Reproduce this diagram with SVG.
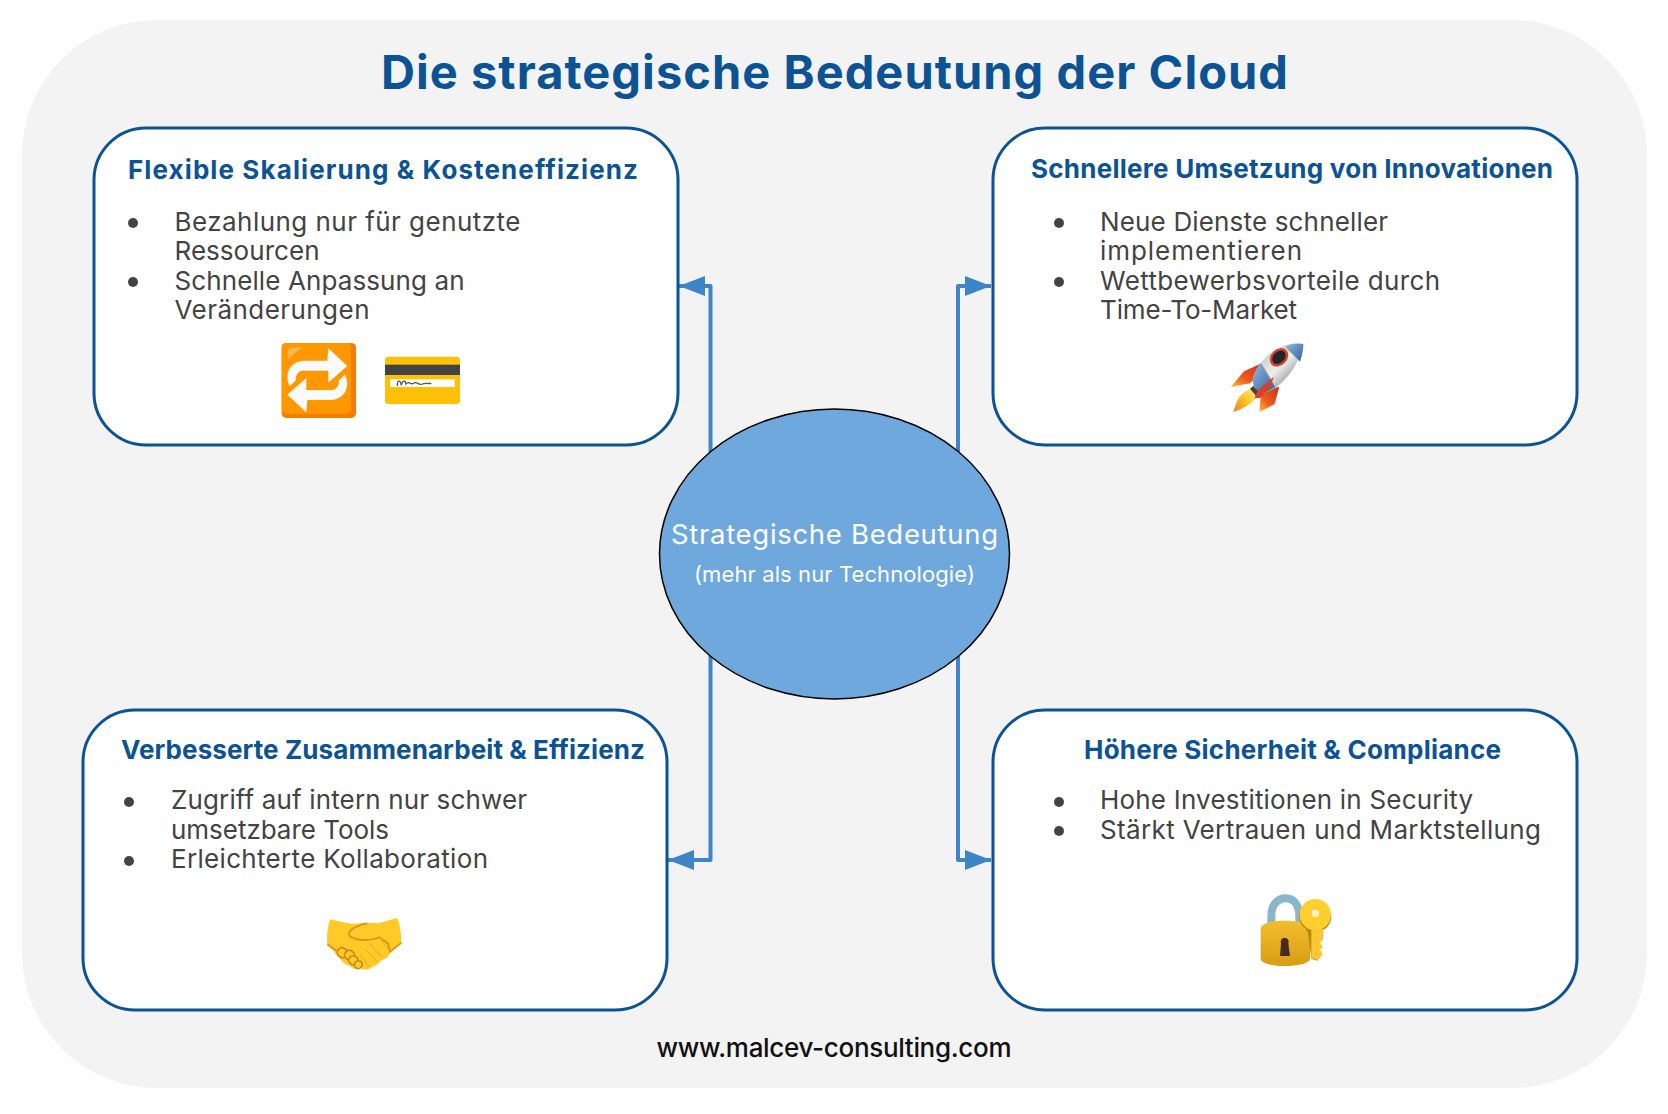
<svg xmlns="http://www.w3.org/2000/svg" width="1668" height="1114" viewBox="0 0 1668 1114">
<style>
text{font-family:"Inter","Open Sans","Liberation Sans",sans-serif}
.box{fill:#fff;stroke:#0b5394;stroke-width:3}
.title{font-size:47px;font-weight:700;fill:#0b5394;text-anchor:start}
.head{font-size:26px;font-weight:700;fill:#0b5394}
.body{font-size:26px;fill:#434343}
.dot{fill:#434343}
.conn{fill:none;stroke:#3d85c6;stroke-width:4;stroke-linejoin:round}
.light{fill:#fff}
</style>
<defs>
<marker id="arrow" markerUnits="userSpaceOnUse" markerWidth="27" markerHeight="22" refX="26" refY="11" orient="auto"><path d="M0,1 L26,11 L0,21 Z" fill="#3d85c6"/></marker>
<linearGradient id="fin" x1="1" y1="0" x2="0" y2="1"><stop offset="0" stop-color="#c8321a"/><stop offset=".6" stop-color="#ef5a1f"/><stop offset="1" stop-color="#ffc02a"/></linearGradient>
<linearGradient id="flame" x1="1" y1="0" x2="0" y2="1"><stop offset="0" stop-color="#fff2a0"/><stop offset=".55" stop-color="#ffc21f"/><stop offset="1" stop-color="#ef7a1a"/></linearGradient>
<linearGradient id="hull" x1="0" y1="0" x2="1" y2="1"><stop offset=".15" stop-color="#c4c7c7"/><stop offset=".5" stop-color="#eceeee"/><stop offset=".7" stop-color="#a9acac"/><stop offset="1" stop-color="#4f5456"/></linearGradient>
<linearGradient id="blue" x1="0" y1="0" x2="1" y2="1"><stop offset="0" stop-color="#8fb9e0"/><stop offset="1" stop-color="#2f5f9a"/></linearGradient>
<linearGradient id="gold" x1="0" y1="0" x2="0" y2="1"><stop offset="0" stop-color="#f2bd2e"/><stop offset="1" stop-color="#d99c14"/></linearGradient>
</defs>
<rect width="1668" height="1114" fill="#fefefe"/>
<rect id="panel" x="22" y="20" width="1625" height="1068" rx="135" fill="#f3f3f3"/>
<text class="title" x="381" y="89" textLength="907">Die strategische Bedeutung der Cloud</text>

<g id="connectors">
<path class="conn" d="M710.5,470 V286 H679" marker-end="url(#arrow)"/>
<path class="conn" d="M958,470 V286 H991" marker-end="url(#arrow)"/>
<path class="conn" d="M710.5,640 V860 H668" marker-end="url(#arrow)"/>
<path class="conn" d="M958,640 V860 H991" marker-end="url(#arrow)"/>
</g>

<g id="node-center">
<ellipse cx="834.5" cy="554" rx="175" ry="145" fill="#6fa8dc" stroke="#000" stroke-width="1.5"/>
<text class="light" x="671" y="544" font-size="27.5" textLength="327">Strategische Bedeutung</text>
<text class="light" x="694" y="582" font-size="22" textLength="281">(mehr als nur Technologie)</text>
</g>

<g id="node-skalierung">
<rect class="box" x="94" y="128" width="584" height="317" rx="52"/>
<text class="head" x="128" y="179" textLength="510">Flexible Skalierung &amp; Kosteneffizienz</text>
<circle class="dot" cx="133" cy="223" r="5"/><circle class="dot" cx="133" cy="282" r="5"/>
<text class="body" x="174.500" y="231" textLength="346">Bezahlung nur für genutzte</text>
<text class="body" x="174.500" y="260" textLength="145">Ressourcen</text>
<text class="body" x="174.500" y="290" textLength="290">Schnelle Anpassung an</text>
<text class="body" x="174.500" y="319" textLength="195">Veränderungen</text>
<g id="icon-repeat" transform="translate(240 320) scale(.3333)">
<rect x="125" y="69" width="223" height="225" rx="14" fill="#f57c00"/>
<rect x="125" y="69" width="208" height="212" rx="14" fill="#ff9800"/>
<path d="M143,98 C143,86 152,82 190,82 C175,92 160,100 148,118 C144,115 143,108 143,98Z" fill="#ffb74d"/>
<g fill="#fafafa">
<path d="M265,85 L322,138 L265,188 V152 H190 C172,152 165,172 168,180 L150,198 C132,170 145,122 195,122 H262 Z"/>
<path d="M265,85 L322,138 L265,188 V152 H190 C172,152 165,172 168,180 L150,198 C132,170 145,122 195,122 H262 Z" transform="rotate(180 232 181)"/>
</g>
</g>
<g id="icon-card" transform="translate(240 320) scale(.3333)">
<rect x="435" y="110" width="225" height="142" rx="10" fill="#ffc107"/>
<rect x="435" y="134" width="225" height="31" fill="#424242"/>
<rect x="450" y="178" width="194" height="23" fill="#fff"/>
<path d="M472,198 C472,178 482,180 484,196 C488,178 496,182 498,192 C506,180 512,196 520,190 C530,182 536,198 548,192 C556,188 564,192 574,190" fill="none" stroke="#555" stroke-width="4"/>
</g>
</g>

<g id="node-innovation">
<rect class="box" x="993" y="128" width="584" height="317" rx="52"/>
<text class="head" x="1031" y="178" textLength="522">Schnellere Umsetzung von Innovationen</text>
<circle class="dot" cx="1059" cy="223" r="5"/><circle class="dot" cx="1059" cy="282" r="5"/>
<text class="body" x="1100" y="231" textLength="288">Neue Dienste schneller</text>
<text class="body" x="1100" y="260" textLength="202">implementieren</text>
<text class="body" x="1100" y="290" textLength="340">Wettbewerbsvorteile durch</text>
<text class="body" x="1100" y="319" textLength="197">Time-To-Market</text>
<g id="icon-rocket" transform="translate(1200 330) scale(.3333)">
<path d="M185,100 L132,124 L92,171 L150,160 L172,140 Z" fill="url(#fin)"/>
<path d="M238,170 L224,222 L178,246 L182,196 L205,178 Z" fill="url(#fin)"/>
<path d="M165,172 C130,180 112,205 108,222 L100,246 C120,240 150,228 176,196 Z" fill="url(#flame)"/>
<path d="M150,176 L168,162 L190,186 L172,202 Z" fill="#3c4146"/>
<path d="M310,42 C268,32 212,58 183,98 C160,128 154,150 163,172 L186,192 C232,180 290,130 310,42 Z" fill="url(#hull)"/>
<path d="M310,42 C292,38 272,42 255,50 L300,95 C306,78 310,60 310,42 Z" fill="url(#blue)"/>
<path d="M183,98 C160,128 154,150 163,172 L186,192 C198,188 212,180 226,170 Z" fill="url(#blue)"/>
<path d="M255,50 L300,95 M183,98 L226,170" stroke="#d8c66a" stroke-width="2" fill="none"/>
<ellipse cx="237" cy="82" rx="31" ry="24" transform="rotate(-45 237 82)" fill="#d8402a"/>
<ellipse cx="237" cy="82" rx="23" ry="17" transform="rotate(-45 237 82)" fill="#22262a"/>
<path d="M222,140 L172,182 L164,204 L180,204 L208,176 Z" fill="#d8402a"/>
</g>
</g>

<g id="node-zusammenarbeit">
<rect class="box" x="83" y="710" width="584" height="300" rx="52"/>
<text class="head" x="121" y="759" textLength="524">Verbesserte Zusammenarbeit &amp; Effizienz</text>
<circle class="dot" cx="129" cy="802" r="5"/><circle class="dot" cx="129" cy="861" r="5"/>
<text class="body" x="171" y="809" textLength="356">Zugriff auf intern nur schwer</text>
<text class="body" x="171" y="838.500" textLength="218">umsetzbare Tools</text>
<text class="body" x="171" y="868" textLength="317">Erleichterte Kollaboration</text>
<g id="icon-handshake" transform="translate(310 900) scale(.3333)">
<path d="M60,58 L125,72 C150,68 180,68 205,70 L262,54 C272,80 274,110 274,128 L240,155 C238,172 224,178 212,182 C206,194 192,198 184,202 C176,211 160,211 150,204 C140,209 128,207 120,198 C108,196 97,188 92,178 C80,168 70,150 52,132 C50,105 52,85 60,58Z" fill="#ffca28"/>
<path d="M52,132 C62,142 70,146 80,152 M274,128 L240,155 L234,130 L208,112 C185,122 150,124 125,112 C110,104 118,90 135,82 C148,76 158,72 172,70" fill="none" stroke="#d99a1a" stroke-width="6"/>
<path d="M208,112 L238,152 M178,130 L216,172 M168,150 L200,184 M150,165 L178,200" fill="none" stroke="#e6a81e" stroke-width="3"/>
<g fill="#ffca28" stroke="#c98a14" stroke-width="5"><rect x="82" y="144" width="30" height="28" rx="13" transform="rotate(30 97 158)"/><rect x="104" y="152" width="30" height="28" rx="13" transform="rotate(40 119 166)"/><rect x="116" y="168" width="28" height="26" rx="13" transform="rotate(40 130 181)"/><rect x="134" y="182" width="22" height="24" rx="11" transform="rotate(40 145 194)"/></g>
</g>
</g>

<g id="node-sicherheit">
<rect class="box" x="993" y="710" width="584" height="300" rx="52"/>
<text class="head" x="1084" y="759" textLength="417">Höhere Sicherheit &amp; Compliance</text>
<circle class="dot" cx="1059" cy="802" r="5"/><circle class="dot" cx="1059" cy="831" r="5"/>
<text class="body" x="1100" y="809" textLength="373">Hohe Investitionen in Security</text>
<text class="body" x="1100" y="838.500" textLength="441">Stärkt Vertrauen und Marktstellung</text>
<g id="icon-lock" transform="translate(1240 880) scale(.3333)">
<path d="M94,148 V108 C94,72 115,55 136,55 C162,55 178,75 178,112 V145" fill="none" stroke="#8bb6c8" stroke-width="24"/>
<path d="M62,146 C62,128 100,122 134,122 C170,122 210,128 210,146 V236 C210,250 170,258 134,258 C100,258 62,250 62,236Z" fill="url(#gold)"/>
<path d="M123,190 A12,12 0 1 1 145,190 L150,228 H120 Z" fill="#4a2a20"/>
<path d="M196,145 C176,130 172,105 184,86 C198,64 236,58 258,76 C280,96 280,128 256,146 L248,150 V178 L238,188 L246,200 L238,210 L246,222 L232,242 L214,236 L204,160 Z" fill="#b98a10"/>
<circle cx="226" cy="104" r="47" fill="#fdd02f"/>
<path d="M214,146 H248 V180 L240,188 L248,200 L240,210 L248,222 L232,240 L214,234Z" fill="#fdc72f"/>
<circle cx="226" cy="100" r="11" fill="#fdf3d0"/>
</g>
</g>

<text id="footer" x="656.500" y="1057" font-size="26" font-weight="500" fill="#111" textLength="355">www.malcev-consulting.com</text>
</svg>
